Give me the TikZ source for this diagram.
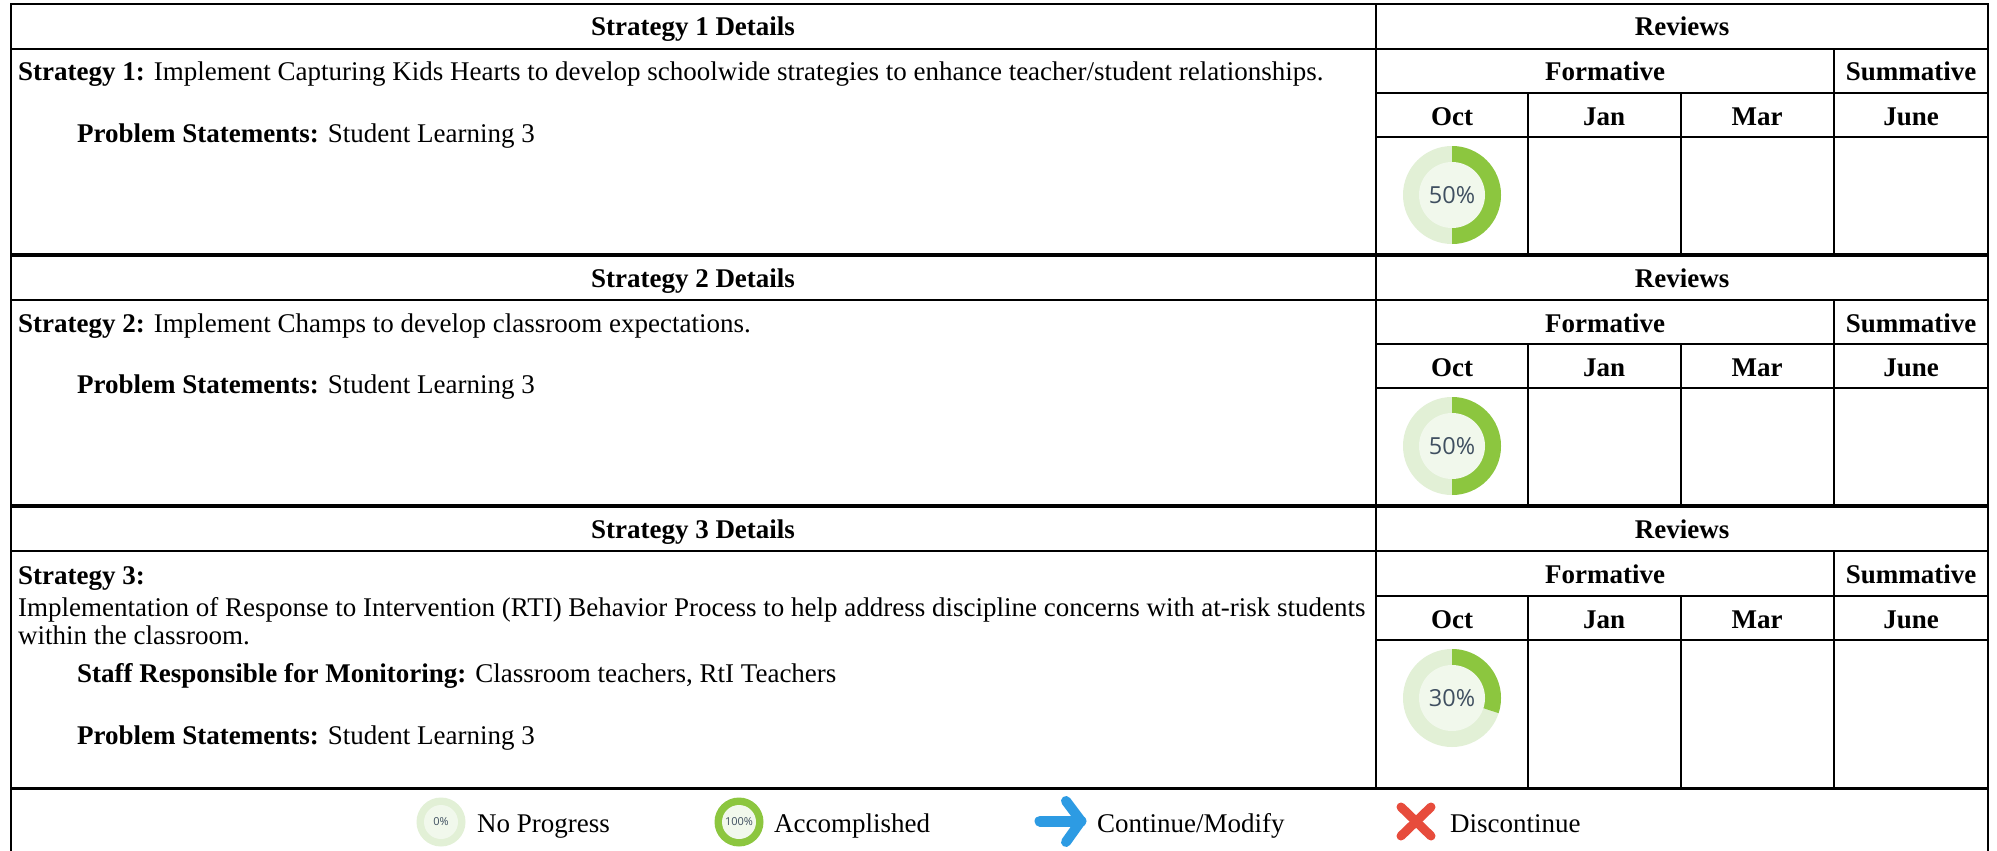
\documentclass[tikz,border=0pt]{standalone}
\usepackage{fontspec}
\setmainfont{Liberation Serif}
\newfontfamily\donutfont{Open Sans}
\definecolor{ringbg}{HTML}{E2F0D6}
\definecolor{ringin}{HTML}{F1F8EC}
\definecolor{ringgreen}{HTML}{8CC63F}
\definecolor{pcttext}{HTML}{3F4F60}
\definecolor{arrowblue}{HTML}{2D9BE3}
\definecolor{xred}{HTML}{E74C3C}
\newcommand\mydonut[4]{% x, y, fraction, label
  \fill[ringbg] (#1,#2) circle (49);
  \fill[ringgreen] (#1,#2) -- ++(-90:49) arc[start angle=-90, end angle={-90+360*#3}, radius=49] -- cycle;
  \fill[ringin] (#1,#2) circle (33);
  \node[pct] at (#1,#2) {#4};
}
\begin{document}
\begin{tikzpicture}[x=1pt,y=-1pt,
  txt/.style={anchor=base west, inner sep=0pt, font=\fontsize{27}{31}\selectfont},
  hdr/.style={anchor=base, inner sep=0pt, font=\fontsize{27}{31}\selectfont\bfseries},
  pct/.style={inner sep=0pt, text=pcttext, font=\donutfont\fontsize{23.5}{23.5}\selectfont},
  smallpct/.style={inner sep=0pt, text=pcttext, font=\donutfont\fontsize{11}{11}\selectfont},
  gridline/.style={line width=2pt},
  sepline/.style={line width=3.5pt},
]
\useasboundingbox (0,0) rectangle (1997,851);
\fill[white] (0,0) rectangle (1997,851);

% ---------- grid ----------
\draw[gridline] (11,851) -- (11,4) -- (1988,4) -- (1988,851);
% block 1
\draw[gridline] (11,49) -- (1988,49);
\draw[gridline] (1376,93) -- (1988,93);
\draw[gridline] (1376,137) -- (1988,137);
\draw[gridline] (1376,4) -- (1376,255);
\draw[gridline] (1834,49) -- (1834,255);
\draw[gridline] (1528,93) -- (1528,255);
\draw[gridline] (1681,93) -- (1681,255);
\draw[sepline] (11,255) -- (1988,255);
% block 2
\draw[gridline] (11,300) -- (1988,300);
\draw[gridline] (1376,344) -- (1988,344);
\draw[gridline] (1376,388) -- (1988,388);
\draw[gridline] (1376,255) -- (1376,506);
\draw[gridline] (1834,300) -- (1834,506);
\draw[gridline] (1528,344) -- (1528,506);
\draw[gridline] (1681,344) -- (1681,506);
\draw[sepline] (11,506) -- (1988,506);
% block 3
\draw[gridline] (11,551) -- (1988,551);
\draw[gridline] (1376,596) -- (1988,596);
\draw[gridline] (1376,640) -- (1988,640);
\draw[gridline] (1376,506) -- (1376,788);
\draw[gridline] (1834,551) -- (1834,788);
\draw[gridline] (1528,596) -- (1528,788);
\draw[gridline] (1681,596) -- (1681,788);
\draw[line width=3pt] (11,788) -- (1988,788);

% ---------- block 1 text ----------
\node[hdr] (h1) at (693,36) {Strategy 1 Details};
\node[hdr] (r1) at (1682,36) {Reviews};
\node[hdr] (f1) at (1605,81) {Formative};
\node[hdr] (s1) at (1911,81) {Summative};
\node[hdr] (o1) at (1452,125) {Oct};
\node[hdr] (j1) at (1604,125) {Jan};
\node[hdr] (m1) at (1757,125) {Mar};
\node[hdr] (u1) at (1911,125) {June};
\node[txt] (t1a) at (18,81) {\textbf{Strategy 1:} Implement Capturing Kids Hearts to develop schoolwide strategies to enhance teacher/student relationships.};
\node[txt] (t1b) at (77,142) {\textbf{Problem Statements:} Student Learning 3};
\mydonut{1452}{195}{0.5}{50\%}

% ---------- block 2 text ----------
\node[hdr] (h2) at (693,287) {Strategy 2 Details};
\node[hdr] (r2) at (1682,287) {Reviews};
\node[hdr] (f2) at (1605,332) {Formative};
\node[hdr] (s2) at (1911,332) {Summative};
\node[hdr] (o2) at (1452,376) {Oct};
\node[hdr] (j2) at (1604,376) {Jan};
\node[hdr] (m2) at (1757,376) {Mar};
\node[hdr] (u2) at (1911,376) {June};
\node[txt] (t2a) at (18,332) {\textbf{Strategy 2:} Implement Champs to develop classroom expectations.};
\node[txt] (t2b) at (77,393) {\textbf{Problem Statements:} Student Learning 3};
\mydonut{1452}{446}{0.5}{50\%}

% ---------- block 3 text ----------
\node[hdr] (h3) at (693,538) {Strategy 3 Details};
\node[hdr] (r3) at (1682,538) {Reviews};
\node[hdr] (f3) at (1605,583) {Formative};
\node[hdr] (s3) at (1911,583) {Summative};
\node[hdr] (o3) at (1452,628) {Oct};
\node[hdr] (j3) at (1604,628) {Jan};
\node[hdr] (m3) at (1757,628) {Mar};
\node[hdr] (u3) at (1911,628) {June};
\node[txt] (t3a) at (18,584) {\textbf{Strategy 3:}};
\node[txt] (t3b) at (18,616) {Implementation of Response to Intervention (RTI) Behavior Process to help address discipline concerns with at-risk students};
\node[txt] (t3c) at (18,644) {within the classroom.};
\node[txt] (t3d) at (77,682) {\textbf{Staff Responsible for Monitoring:} Classroom teachers, RtI Teachers};
\node[txt] (t3e) at (77,744) {\textbf{Problem Statements:} Student Learning 3};
\mydonut{1452}{698}{0.3}{30\%}

% ---------- legend ----------
\fill[ringbg] (441,822) circle (24.5);
\fill[ringin] (441,822) circle (17);
\node[smallpct] (l0) at (441,822) {0\%};
\node[txt] (ln) at (477,832) {No Progress};
\fill[ringgreen] (739,822) circle (24.5);
\fill[ringin] (739,822) circle (17);
\node[smallpct] (l100) at (739,822) {100\%};
\node[txt] (la) at (774,832) {Accomplished};
\coordinate (ar0) at (1040,821);
\coordinate (ar1) at (1081,821);
\coordinate (art) at (1066,801);
\coordinate (arb) at (1066,842);
\draw[arrowblue, line width=11pt, line cap=round, line join=round] (ar0) -- (ar1);
\draw[arrowblue, line width=10pt, line cap=round, line join=round] (art) -- (ar1) -- (arb);
\node[txt] (lc) at (1097,832) {Continue/Modify};
\coordinate (x1) at (1401,807);
\coordinate (x2) at (1431,836);
\coordinate (x3) at (1401,836);
\coordinate (x4) at (1431,807);
\draw[xred, line width=9pt, line cap=round] (x1) -- (x2);
\draw[xred, line width=9pt, line cap=round] (x3) -- (x4);
\node[txt] (ld) at (1450,832) {Discontinue};
\end{tikzpicture}
\end{document}
